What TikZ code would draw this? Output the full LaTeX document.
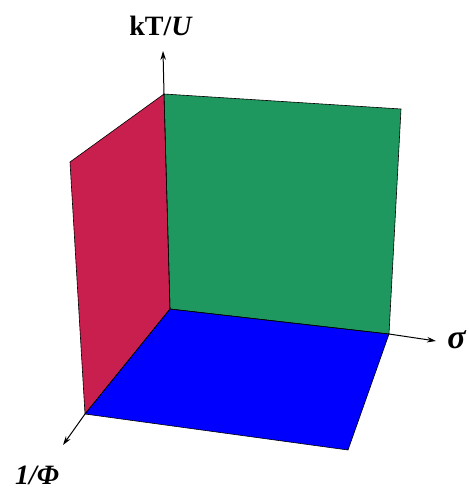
\documentclass[tikz,border=0pt]{standalone}
\usepackage{fontspec}
\setmainfont{Liberation Serif}
\usetikzlibrary{arrows.meta}
\definecolor{facered}{RGB}{201,31,78}
\definecolor{facegreen}{RGB}{31,152,96}
\definecolor{faceblue}{RGB}{0,0,255}
\tikzset{
  face/.style={draw=black, line width=0.6pt, line join=round},
  axis/.style={draw=black, line width=1pt, -{Stealth[length=9pt,width=5.5pt]}},
  lbl/.style={font=\fontsize{28}{30}\selectfont\bfseries, inner sep=0pt}
}
\begin{document}
\begin{tikzpicture}[x=1pt,y=-1pt]
\useasboundingbox (0,0) rectangle (468,489);
% corners
\coordinate (O) at (170,309);
\coordinate (Z) at (164,94);
\coordinate (ZS) at (401,109);
\coordinate (S) at (389,334);
\coordinate (ZP) at (70,162);
\coordinate (P) at (85,414);
\coordinate (PS) at (348,450);
% axis ends
\coordinate (Ztip) at (163,51);
\coordinate (Stip) at (436,341);
\coordinate (Ptip) at (63,445);
% faces
\fill[facegreen] (O) -- (Z) -- (ZS) -- (S) -- cycle;
\fill[facered] (O) -- (Z) -- (ZP) -- (P) -- cycle;
\fill[faceblue] (O) -- (P) -- (PS) -- (S) -- cycle;
\draw[face] (O) -- (Z) -- (ZS) -- (S) -- cycle;
\draw[face] (O) -- (Z) -- (ZP) -- (P) -- cycle;
\draw[face] (O) -- (P) -- (PS) -- (S) -- cycle;
% axes
\draw[axis] (Z) -- (Ztip);
\draw[axis] (S) -- (Stip);
\draw[axis] (P) -- (Ptip);
% labels
\node[lbl] (lz) at (161,26) {kT/\textit{U}};
\node[lbl, font=\fontsize{34}{36}\selectfont\bfseries] (ls) at (457,340) {\textit{σ}};
\node[lbl] (lp) at (37,475) {\textit{1/Φ}};
\end{tikzpicture}
\end{document}
